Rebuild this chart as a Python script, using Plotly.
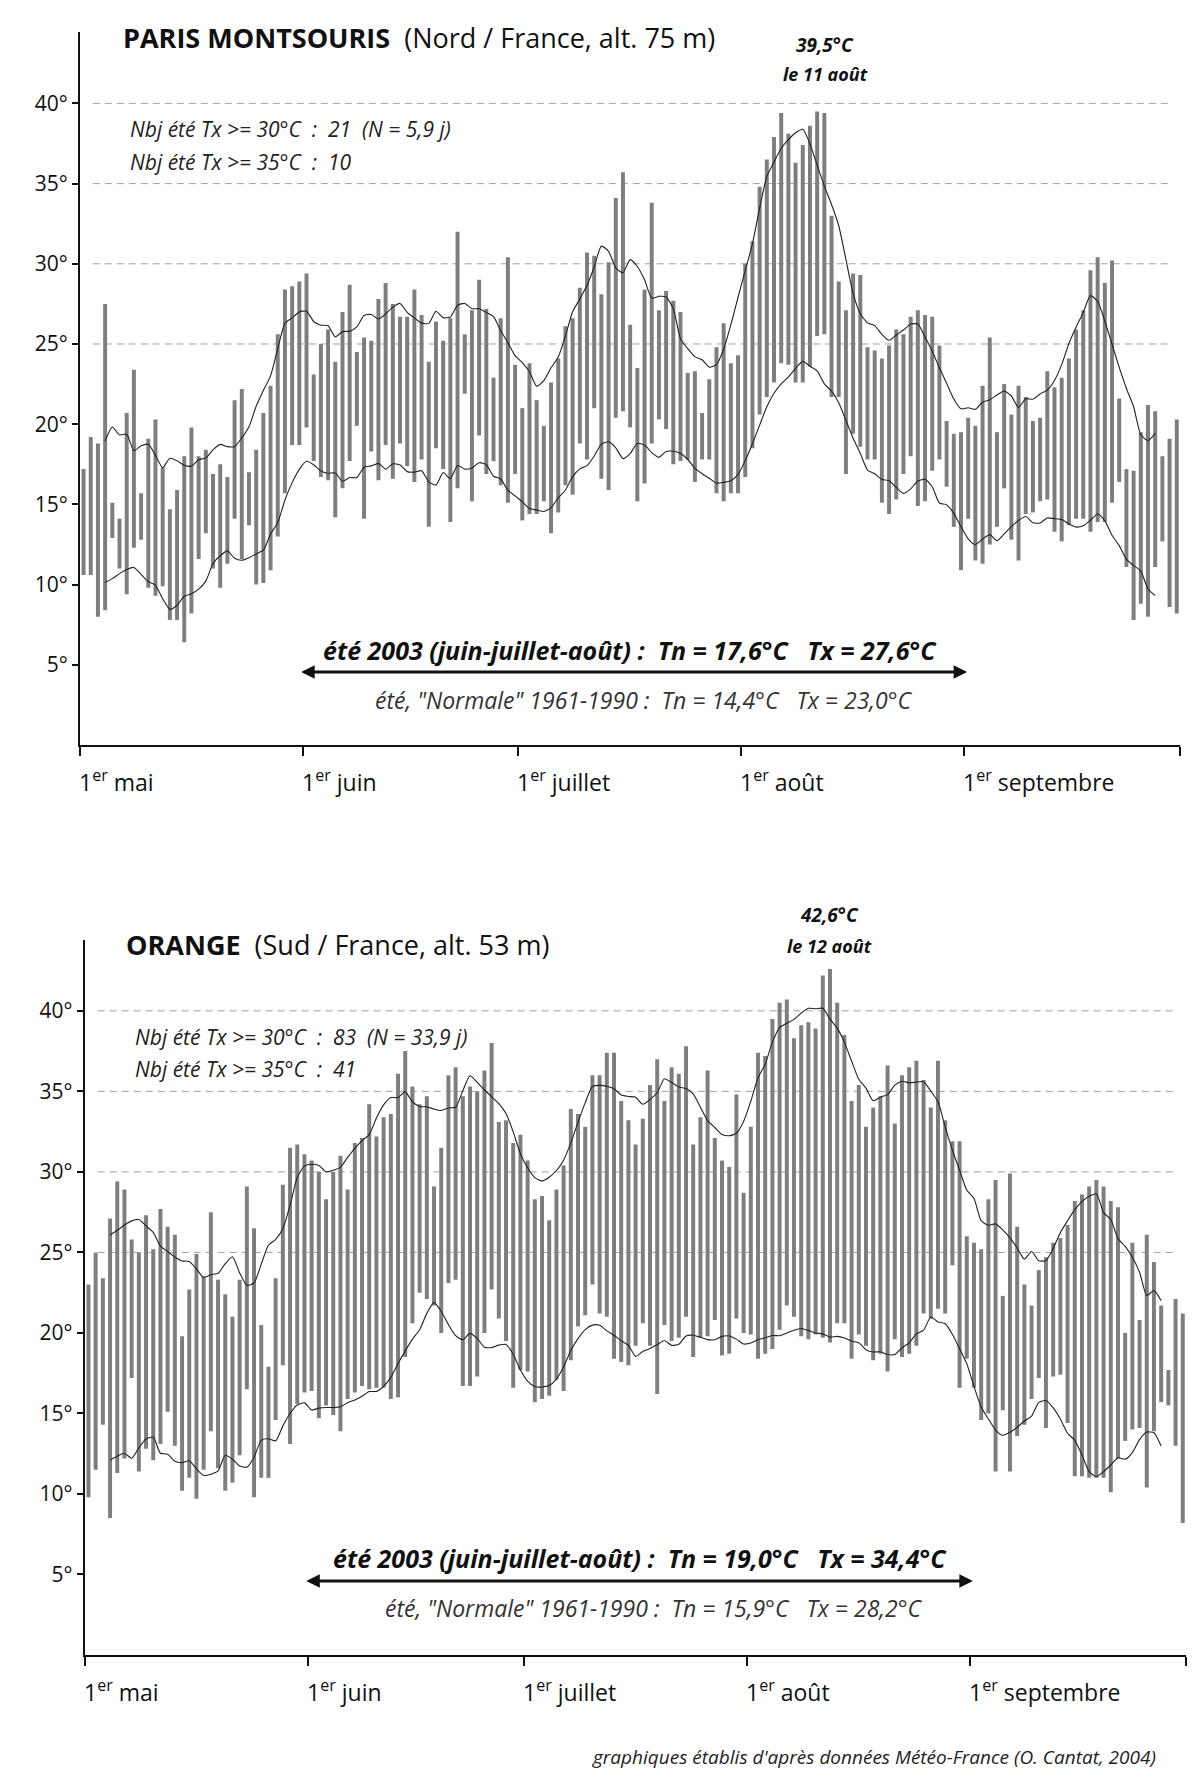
import plotly.graph_objects as go
import pandas as pd

# ---------------- data ----------------
n_days = 153  # 1 May -> 30 Sept 2003
month_ticks = [0, 31, 61, 92, 123, 153]
month_labels = ["1<sup>er</sup> mai", "1<sup>er</sup> juin", "1<sup>er</sup> juillet",
                "1<sup>er</sup> août", "1<sup>er</sup> septembre"]
y_ticks = [5, 10, 15, 20, 25, 30, 35, 40]
y_labels = ["5°", "10°", "15°", "20°", "25°", "30°", "35°", "40°"]
grid_levels = [25, 30, 35, 40]
summer_start, summer_end = 31, 123

paris_tx = [17.2, 19.2, 18.8, 27.5, 15.1, 14.1, 20.7, 23.4, 15.7, 19.1, 20.3, 17.3, 14.7, 15.9, 18.0, 19.8,
            18.0, 18.4, 16.9, 17.5, 16.7, 21.5, 22.2, 17.0, 18.4, 20.7, 22.4, 25.6, 28.4, 28.6, 28.9, 29.4,
            23.1, 25.0, 25.9, 23.9, 27.0, 28.7, 24.5, 25.4,
            25.2, 27.8, 28.8, 27.5, 26.7, 26.7, 28.4, 26.8, 23.9, 26.4, 25.2, 26.6, 32.0, 25.6, 27.1, 29.0,
            27.2, 22.9, 26.6, 30.4, 23.7, 21.0, 23.8, 21.5, 19.9, 22.6, 24.1, 26.1, 26.6, 28.5, 30.7, 30.5,
            28.1, 30.1, 34.1, 35.7, 26.2, 23.5, 28.4, 33.8, 27.1,
            28.3, 27.7, 27.0, 23.2, 23.3, 20.7, 22.8, 24.8, 26.3, 23.8, 24.3, 30.0, 31.4, 34.8, 36.5, 37.9,
            39.4, 38.1, 36.3, 37.4, 38.6, 39.5, 39.4, 33.0, 28.9, 27.1, 29.4, 29.3, 24.8, 24.6, 24.1, 24.9,
            25.9, 25.6, 26.7, 27.1, 26.8, 26.7, 24.9, 20.2,
            19.4, 19.5, 20.4, 19.9, 22.4, 25.4, 19.5, 22.5, 20.6, 22.4, 21.7, 20.2, 20.4, 23.3, 22.3, 22.9,
            24.1, 25.9, 27.1, 29.6, 30.4, 28.8, 30.2, 21.6, 17.2, 17.1, 19.5, 21.2, 20.8, 18.0, 19.1, 20.3]
paris_tn = [10.6, 10.6, 8.0, 8.4, 12.9, 11.0, 9.4, 12.3, 12.8, 9.8, 9.3, 9.9, 7.8, 7.8, 6.4, 8.2,
            11.6, 13.2, 11.0, 9.8, 11.3, 14.1, 11.6, 13.7, 10.0, 10.1, 10.9, 13.0, 15.7, 18.7, 18.7, 19.8,
            17.7, 16.7, 16.5, 14.2, 16.0, 17.7, 19.9, 14.1,
            18.3, 16.5, 18.7, 16.6, 18.8, 17.4, 16.4, 17.8, 13.6, 18.5, 17.2, 13.9, 16.0, 21.9, 15.2, 19.3,
            16.9, 17.7, 16.2, 15.1, 16.9, 14.0, 14.4, 14.4, 15.2, 13.2, 14.5, 16.2, 15.6, 18.8, 17.8, 21.0,
            16.6, 15.9, 20.4, 20.8, 19.8, 15.2, 16.3, 18.8, 20.3,
            19.7, 17.5, 17.7, 17.8, 16.4, 17.8, 17.8, 15.7, 15.2, 15.7, 15.7, 16.7, 18.5, 20.6, 21.7, 22.6,
            23.8, 23.7, 22.6, 22.6, 23.6, 25.5, 25.6, 21.7, 21.7, 16.9, 19.4, 18.6, 17.8, 17.8, 15.1, 14.4,
            15.3, 16.9, 18.0, 14.9, 15.2, 17.1, 17.8, 16.1,
            13.6, 10.9, 14.1, 11.5, 11.3, 12.5, 13.6, 16.0, 12.8, 11.5, 14.4, 14.5, 15.2, 15.3, 13.3, 12.7,
            13.7, 14.1, 14.1, 13.3, 13.9, 13.9, 15.1, 16.4, 11.1, 7.8, 8.8, 8.0, 11.1, 12.7, 8.6, 8.2]

orange_tx = [23.0, 25.0, 23.4, 27.1, 29.4, 28.9, 25.8, 25.0, 27.3, 25.2, 27.7, 26.6, 26.1, 19.8, 22.7, 24.9,
             23.5, 27.5, 23.3, 22.4, 21.0, 23.3, 29.1, 26.5, 20.5, 17.9, 23.4, 29.2, 31.5, 31.7, 31.1, 30.7,
             30.0, 28.3, 30.0, 31.0, 28.9, 31.8, 32.1, 34.2,
             32.2, 33.4, 33.6, 36.1, 37.5, 35.3, 34.2, 34.7, 29.1, 31.5, 36.0, 36.5, 34.7, 35.3, 35.0, 36.3,
             38.0, 33.1, 33.2, 31.8, 32.3, 30.7, 28.3, 28.5, 27.0, 28.9, 30.4, 33.9, 33.6, 32.8, 36.0, 36.0,
             37.4, 37.4, 34.4, 33.2, 31.7, 33.3, 35.4, 37.0,
             34.4, 36.5, 36.1, 37.8, 31.7, 33.4, 36.3, 32.1, 30.7, 30.3, 34.8, 28.7, 32.8, 37.4, 37.2, 39.5,
             40.5, 40.7, 38.3, 39.1, 39.3, 38.9, 42.2, 42.6, 40.5, 38.5, 34.4, 35.4, 32.8, 34.0, 34.7, 36.6,
             33.0, 36.0, 36.5, 36.9, 35.7, 34.0, 36.9, 33.2,
             31.9, 31.9, 26.0, 25.6, 25.2, 28.3, 29.5, 22.3, 29.9, 26.6, 23.0, 21.7, 23.9, 24.7, 25.6, 25.9,
             26.7, 28.2, 28.6, 29.1, 29.5, 29.1, 28.2, 27.8, 20.0, 25.6, 20.8, 26.1, 24.4, 21.7, 17.7, 22.1,
             21.2]
orange_tn = [9.8, 11.5, 14.3, 8.5, 11.3, 12.2, 17.2, 11.4, 12.8, 12.1, 13.1, 15.1, 13.0, 10.2, 11.0, 9.7,
             11.5, 13.9, 11.6, 10.2, 10.7, 12.4, 16.5, 9.8, 11.0, 11.0, 14.6, 18.0, 13.1, 15.6, 16.3, 16.4,
             14.7, 15.5, 14.9, 13.9, 15.9, 16.3, 16.7, 16.5,
             16.6, 16.6, 15.9, 16.0, 18.5, 20.6, 22.5, 22.1, 21.7, 20.0, 23.1, 23.3, 16.7, 16.7, 17.3, 20.0,
             22.7, 20.9, 19.5, 16.6, 17.7, 17.6, 15.7, 15.9, 16.1, 17.1, 16.4, 18.3, 20.4, 21.1, 23.0, 21.2,
             21.0, 18.4, 18.2, 18.0, 19.2, 20.6, 19.2, 16.2,
             20.5, 19.5, 19.7, 21.0, 18.5, 19.7, 19.8, 20.8, 18.6, 18.7, 20.9, 20.0, 19.9, 18.4, 18.7, 19.0,
             20.2, 21.7, 21.0, 19.8, 19.6, 19.9, 19.7, 19.4, 20.6, 20.6, 18.4, 19.9, 19.2, 18.3, 18.7, 17.6,
             19.6, 18.5, 18.7, 19.2, 21.2, 20.9, 21.5, 21.2,
             24.2, 16.6, 18.4, 16.6, 14.6, 15.0, 11.4, 15.2, 11.4, 13.6, 14.3, 15.9, 17.2, 14.1, 17.3, 17.4,
             14.4, 11.1, 11.1, 11.0, 11.0, 11.0, 10.1, 12.2, 13.3, 14.0, 14.1, 10.4, 13.9, 15.7, 15.5, 13.0,
             8.2]

stations = [
    dict(tx=paris_tx, tn=paris_tn, xa="x", ya="y",
         title="<b>PARIS MONTSOURIS</b>\u00a0\u00a0(Nord / France, alt. 75 m)",
         rec1="<b><i>39,5°C</i></b>", rec2="<b><i>le 11 août</i></b>",
         nb1="<i>Nbj été Tx >= 30°C\u00a0 :\u00a0 21\u00a0 (N = 5,9 j)</i>",
         nb2="<i>Nbj été Tx >= 35°C\u00a0 :\u00a0 10</i>",
         ete="<b><i>été 2003 (juin-juillet-août) :\u00a0 Tn = 17,6°C\u00a0\u00a0 Tx = 27,6°C</i></b>",
         norm="<i>été, \"Normale\" 1961-1990 :\u00a0 Tn = 14,4°C\u00a0\u00a0 Tx = 23,0°C</i>"),
    dict(tx=orange_tx, tn=orange_tn, xa="x2", ya="y2",
         title="<b>ORANGE</b>\u00a0\u00a0(Sud / France, alt. 53 m)",
         rec1="<b><i>42,6°C</i></b>", rec2="<b><i>le 12 août</i></b>",
         nb1="<i>Nbj été Tx >= 30°C\u00a0 :\u00a0 83\u00a0 (N = 33,9 j)</i>",
         nb2="<i>Nbj été Tx >= 35°C\u00a0 :\u00a0 41</i>",
         ete="<b><i>été 2003 (juin-juillet-août) :\u00a0 Tn = 19,0°C\u00a0\u00a0 Tx = 34,4°C</i></b>",
         norm="<i>été, \"Normale\" 1961-1990 :\u00a0 Tn = 15,9°C\u00a0\u00a0 Tx = 28,2°C</i>"),
]

# ---------------- layout geometry (pixels of the 1200 x 1772 page) ----------------
W, H = 1200, 1772
OFF = 8  # the page body adds an 8 px margin around the figure
FONT = "Open Sans, Liberation Sans, sans-serif"
geo = [
    dict(x0=79.6, x1=1180, y_top=32, y_bot=745, ymax=44.45,
         title_xy=(121, 37), rec_xy=(825, 45, 74), nb_xy=(128, 129, 162),
         ete_xy=(630, 650), arrow_y=4.55, norm_xy=(644, 700), lab_y=781),
    dict(x0=84.5, x1=1186, y_top=940, y_bot=1655, ymax=44.4,
         title_xy=(124, 944), rec_xy=(829, 915, 946), nb_xy=(133, 1037, 1069),
         ete_xy=(640, 1558), arrow_y=4.6, norm_xy=(654, 1608), lab_y=1691),
]

def px(x):
    return (x - OFF) / W

def py(y):
    return 1 - (y - OFF) / H

fig = go.Figure()
annotations = []
shapes = []
days = list(range(n_days))
xc = [d + 0.55 for d in days]

for st, g in zip(stations, geo):
    tx = pd.Series(st["tx"])
    tn = pd.Series(st["tn"])
    fig.add_trace(go.Bar(x=xc, y=(tx - tn).tolist(), base=tn.tolist(), width=0.55,
                         marker=dict(color="#7e7e7e", line=dict(width=0)),
                         xaxis=st["xa"], yaxis=st["ya"], hoverinfo="skip"))
    for s in (tx, tn):
        sm = s.rolling(7, center=True).mean()
        fig.add_trace(go.Scatter(x=xc, y=sm.tolist(), mode="lines",
                                 line=dict(color="#222222", width=1.1, shape="spline", smoothing=0.6),
                                 xaxis=st["xa"], yaxis=st["ya"], hoverinfo="skip"))
    xr = st["xa"]
    yr = st["ya"]
    for lv in grid_levels:
        shapes.append(dict(type="line", xref=f"{xr} domain", yref=yr, x0=0.012, x1=0.99,
                           y0=lv, y1=lv, layer="below",
                           line=dict(color="#a0a0a0", width=1, dash="7px,5px")))
    # texts
    annotations.append(dict(xref="paper", yref="paper", x=px(g["title_xy"][0]), y=py(g["title_xy"][1]),
                            xanchor="left", yanchor="middle", showarrow=False, text=st["title"],
                            font=dict(family=FONT, size=27, color="#111")))
    annotations.append(dict(xref="paper", yref="paper", x=px(g["rec_xy"][0]), y=py(g["rec_xy"][1]),
                            xanchor="center", yanchor="middle", showarrow=False, text=st["rec1"],
                            font=dict(family=FONT, size=19, color="#111")))
    annotations.append(dict(xref="paper", yref="paper", x=px(g["rec_xy"][0]), y=py(g["rec_xy"][2]),
                            xanchor="center", yanchor="middle", showarrow=False, text=st["rec2"],
                            font=dict(family=FONT, size=18, color="#111")))
    for key, yy in (("nb1", g["nb_xy"][1]), ("nb2", g["nb_xy"][2])):
        annotations.append(dict(xref="paper", yref="paper", x=px(g["nb_xy"][0]), y=py(yy),
                                xanchor="left", yanchor="middle", showarrow=False, text=st[key],
                                font=dict(family=FONT, size=21, color="#222")))
    annotations.append(dict(xref="paper", yref="paper", x=px(g["ete_xy"][0]), y=py(g["ete_xy"][1]),
                            xanchor="center", yanchor="middle", showarrow=False, text=st["ete"],
                            font=dict(family=FONT, size=25, color="#111")))
    annotations.append(dict(xref="paper", yref="paper", x=px(g["norm_xy"][0]), y=py(g["norm_xy"][1]),
                            xanchor="center", yanchor="middle", showarrow=False, text=st["norm"],
                            font=dict(family=FONT, size=23, color="#333")))
    annotations.append(dict(xref=xr, yref=yr, x=summer_end + 0.4, y=g["arrow_y"],
                            axref=xr, ayref=yr, ax=summer_start - 0.4, ay=g["arrow_y"],
                            text="", showarrow=True, arrowhead=2, arrowside="end+start",
                            arrowsize=0.9, arrowwidth=3, arrowcolor="#111", standoff=0, startstandoff=0))
    for mv, ml in zip(month_ticks[:-1], month_labels):
        annotations.append(dict(xref=xr, yref="paper", x=mv, y=py(g["lab_y"]),
                                xanchor="left", yanchor="middle", showarrow=False, text=ml,
                                xshift=-3,
                                font=dict(family=FONT, size=23, color="#111")))

annotations.append(dict(xref="paper", yref="paper", x=px(1158), y=py(1757), xanchor="right",
                        yanchor="middle", showarrow=False,
                        text="<i>graphiques établis d'après données Météo-France (O. Cantat, 2004)</i>",
                        font=dict(family=FONT, size=19, color="#222")))

def xaxis_cfg(g, anchor):
    return dict(domain=[px(g["x0"]), px(g["x1"])], range=[0, n_days], anchor=anchor,
                showline=True, linecolor="#111", linewidth=2, ticks="outside",
                tickvals=month_ticks, ticklen=9, tickwidth=1.5, tickcolor="#111",
                showticklabels=False, showgrid=False, zeroline=False, fixedrange=True)

def yaxis_cfg(g, anchor):
    return dict(domain=[py(g["y_bot"]), py(g["y_top"])], range=[0, g["ymax"]], anchor=anchor,
                showline=True, linecolor="#111", linewidth=1.5, ticks="outside",
                tickvals=y_ticks, ticktext=y_labels, ticklen=6, tickwidth=1.5, tickcolor="#111",
                tickfont=dict(family=FONT, size=21, color="#111"),
                showgrid=False, zeroline=False, fixedrange=True)

fig.update_layout(
    width=W, height=H, margin=dict(l=0, r=0, t=0, b=0),
    paper_bgcolor="white", plot_bgcolor="white", showlegend=False,
    barmode="overlay",
    xaxis=xaxis_cfg(geo[0], "y"), yaxis=yaxis_cfg(geo[0], "x"),
    xaxis2=xaxis_cfg(geo[1], "y2"), yaxis2=yaxis_cfg(geo[1], "x2"),
    annotations=annotations, shapes=shapes,
    font=dict(family=FONT),
)

fig.write_html("out.html")
